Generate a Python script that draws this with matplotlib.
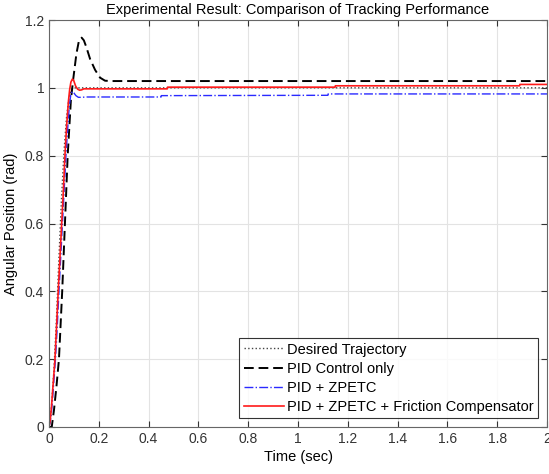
import matplotlib
matplotlib.use("Agg")
import matplotlib.pyplot as plt
import numpy as np

plt.rcParams['font.family'] = ['Liberation Sans', 'DejaVu Sans']

# desired trajectory
t_des = [0, 0.005, 0.01, 0.02, 0.03, 0.04, 0.05, 0.06, 0.07, 0.08, 0.09, 0.1, 2.0]
y_des = [0, 0.02, 0.06, 0.17, 0.32, 0.5, 0.67, 0.81, 0.91, 0.97, 0.995, 1.0, 1.0]

# PID control only
t_pid = [0, 0.011, 0.02, 0.03, 0.04, 0.053, 0.064, 0.075, 0.088, 0.098, 0.11, 0.12,
         0.131, 0.14, 0.15, 0.165, 0.185, 0.205, 0.225, 0.25, 2.0]
y_pid = [0, 0.0, 0.05, 0.12, 0.2, 0.4, 0.6, 0.8, 0.965, 1.03, 1.1, 1.138,
         1.148, 1.14, 1.12, 1.085, 1.053, 1.03, 1.021, 1.02, 1.02]

# PID + ZPETC
t_zp = [0, 0.005, 0.01, 0.015, 0.02, 0.026, 0.032, 0.04, 0.047, 0.054, 0.061, 0.068,
        0.075, 0.082, 0.088, 0.094, 0.1, 0.108, 0.118, 0.13, 0.15, 0.45, 0.451,
        1.12, 1.121, 2.0]
y_zp = [0, 0.015, 0.045, 0.09, 0.14, 0.2, 0.28, 0.4, 0.5, 0.6, 0.7, 0.8,
        0.88, 0.95, 0.982, 0.989, 0.985, 0.977, 0.972, 0.972, 0.973, 0.973, 0.977,
        0.978, 0.982, 0.982]

# PID + ZPETC + friction compensator
t_fc = [0, 0.005, 0.01, 0.015, 0.02, 0.024, 0.03, 0.037, 0.044, 0.051, 0.058, 0.064,
        0.071, 0.078, 0.083, 0.088, 0.094, 0.099, 0.107, 0.115, 0.123, 0.131, 0.14,
        0.16, 0.475, 0.476, 1.149, 1.15, 1.89, 1.891, 2.0]
y_fc = [0, 0.02, 0.06, 0.11, 0.16, 0.2, 0.29, 0.4, 0.5, 0.6, 0.7, 0.8,
        0.89, 0.96, 0.995, 1.017, 1.026, 1.022, 1.005, 0.996, 0.993, 0.994, 0.997,
        0.997, 0.997, 1.002, 1.002, 1.006, 1.006, 1.01, 1.01]

x_ticks = np.arange(0, 2.01, 0.2)
y_ticks = np.arange(0, 1.21, 0.2)

fig = plt.figure(figsize=(5.49, 4.74), dpi=100)
ax = fig.add_axes([49/549, 1 - 427/474, 498/549, 407/474])

ax.plot(t_des, y_des, ':', color='#444444', lw=1.0, label='Desired Trajectory')
ax.plot(t_pid, y_pid, '--', color='black', lw=1.4, dashes=(5, 2.5), label='PID Control only')
ax.plot(t_zp, y_zp, '-.', color='#2a2aff', lw=1.0, label='PID + ZPETC')
ax.plot(t_fc, y_fc, '-', color='#ff1a1a', lw=1.2, label='PID + ZPETC + Friction Compensator')

ax.set_xlim(0, 2)
ax.set_ylim(0, 1.2)
ax.set_xticks(x_ticks)
ax.set_yticks(y_ticks)
ax.set_xticklabels(['%g' % round(v, 1) for v in x_ticks])
ax.set_yticklabels(['%g' % round(v, 1) for v in y_ticks])
ax.grid(True, color='#e3e3e3', lw=0.8)
ax.set_axisbelow(True)
ax.tick_params(direction='in', top=True, right=True, labelsize=10,
               colors='#333333', length=4)
for s in ax.spines.values():
    s.set_color('#666666')

ax.set_title('Experimental Result: Comparison of Tracking Performance', fontsize=10.5, pad=4)
ax.set_xlabel('Time (sec)', fontsize=10.5, labelpad=3)
ax.set_ylabel('Angular Position (rad)', fontsize=10.5, labelpad=5)

leg = ax.legend(loc='lower right', fontsize=10.5, frameon=True, fancybox=False,
                edgecolor='black', handlelength=2.8, handletextpad=0.2,
                labelspacing=0.35, borderaxespad=0.6, borderpad=0.3)
leg.get_frame().set_linewidth(0.8)

fig.savefig('out.png', dpi=100)
